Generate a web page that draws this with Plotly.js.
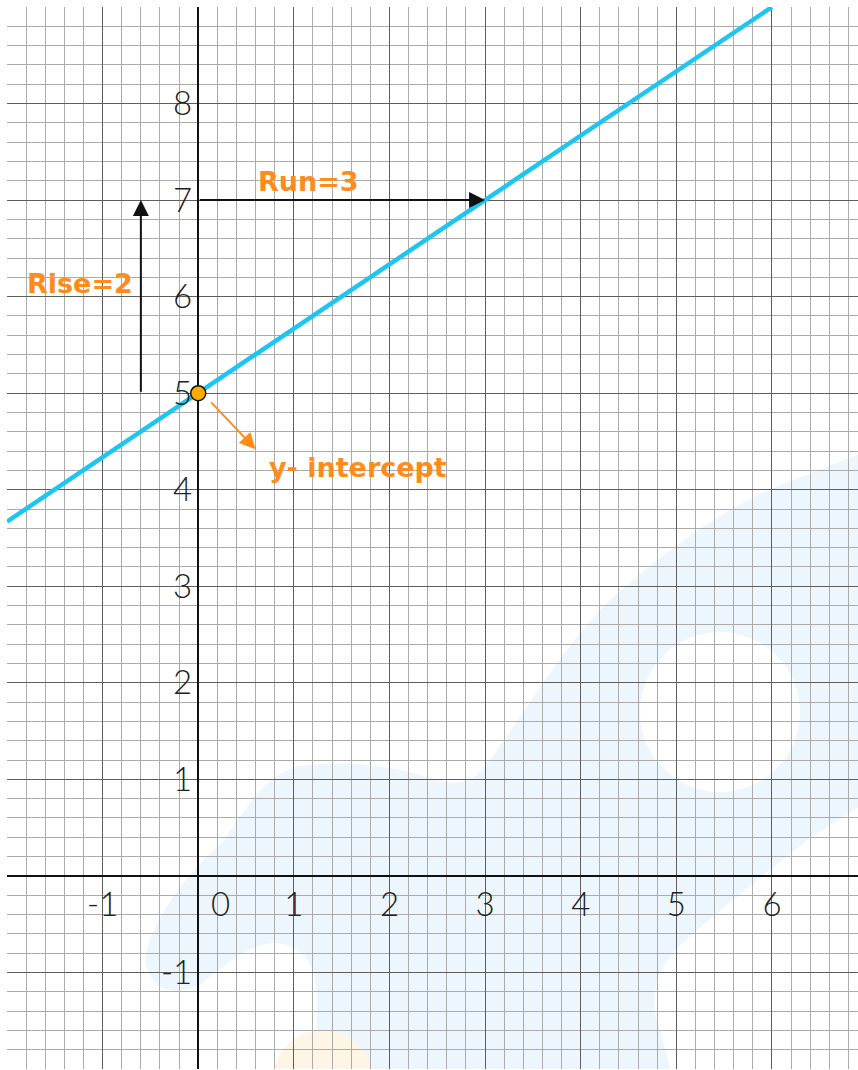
<!DOCTYPE html>
<html>
<head>
<meta charset="utf-8">
<script src="https://cdn.plot.ly/plotly-3.0.1.min.js"></script>
<style>html,body{margin:0;padding:0;background:#fff;}#chart{width:858px;height:1070px;}</style>
</head>
<body>
<div id="chart"></div>
<script>
// ---- data ----
const lineX = [-2, 6];
const lineY = [3.67, 9];
const interceptX = [0];
const interceptY = [5];

const xRange = [-2, 6.9];
const yRange = [-2, 9];

const xTickVals = [-2, -1, 0, 1, 2, 3, 4, 5, 6];
const xTickText = ['', '-1', '\u00a0\u00a0\u00a0\u00a0\u00a00', '1', '2', '3', '4', '5', '6'];
const yTickVals = [-2, -1, 0, 1, 2, 3, 4, 5, 6, 7, 8, 9];
const yTickText = ['', '-1', '', '1', '2', '3', '4', '5', '6', '7', '8', ''];

// run / rise arrows (start -> end)
const runStart = [0, 7], runEnd = [3, 7];
const riseStart = [-0.6, 5], riseEnd = [-0.6, 7];
const pointerStart = [0.12, 4.92], pointerEnd = [0.6, 4.42];

const labelText = ['Rise=2', 'Run=3', 'y- intercept'];
const labelX = [-1.24, 1.15, 1.67];
const labelY = [6.14, 7.19, 4.23];

// ---- decoration (watermark) ----
const wm = "<svg xmlns='http://www.w3.org/2000/svg' viewBox='7 7 851 1062' preserveAspectRatio='none'>" +
 "<path fill='#edf6fd' fill-rule='evenodd' d='M145,960 C150,920 190,870 223,842 C250,800 270,772 300,766 C340,760 380,764 420,775 C450,785 470,790 490,760 C520,720 560,650 610,600 C660,555 720,510 780,485 L870,450 L870,800 L807,840 C770,870 720,910 680,945 C655,970 648,1000 660,1030 L672,1075 L316,1075 L317,993 C315,960 300,945 273,943 C250,945 230,960 200,985 C180,995 150,995 145,960 Z M640,712 a80,80 0 1,0 160,0 a80,80 0 1,0 -160,0 Z'/>" +
 "<circle cx='323' cy='1080' r='50' fill='#fdf6e6'/></svg>";
const wmURI = 'data:image/svg+xml;charset=utf-8,' + encodeURIComponent(wm);

const orange = '#ff8c1a';
const tickFont = {family: 'Lato, "DejaVu Sans", sans-serif', size: 33, color: '#222', weight: 300};
const labelFont = {family: '"DejaVu Sans", sans-serif', size: 27, color: orange, weight: 700};

const traces = [
  {x: lineX, y: lineY, mode: 'lines', line: {color: '#1ec5f0', width: 4.5}, hoverinfo: 'skip', cliponaxis: true},
  {x: interceptX, y: interceptY, mode: 'markers',
   marker: {size: 15, color: '#ffab00', line: {color: '#111', width: 1.5}}, hoverinfo: 'skip', cliponaxis: false}
];

function arrow(s, e, color) {
  return {x: e[0], y: e[1], ax: s[0], ay: s[1], xref: 'x', yref: 'y', axref: 'x', ayref: 'y',
    text: '', showarrow: true, arrowhead: 2, arrowsize: 1.6, arrowwidth: 2, arrowcolor: color, standoff: 0, startstandoff: 0};
}

const annotations = [
  arrow(runStart, runEnd, '#111'),
  arrow(riseStart, riseEnd, '#111'),
  arrow(pointerStart, pointerEnd, orange)
];
for (let i = 0; i < labelText.length; i++) {
  annotations.push({x: labelX[i], y: labelY[i], xref: 'x', yref: 'y', text: labelText[i], showarrow: false,
    font: labelFont, xanchor: 'center', yanchor: 'middle'});
}

const axisCommon = {
  tickmode: 'array', showgrid: true, gridcolor: '#5e5e5e', gridwidth: 1,
  minor: {tickmode: 'linear', tick0: 0, dtick: 0.2, showgrid: true, gridcolor: '#ababab', gridwidth: 1, ticks: ''},
  zeroline: true, zerolinecolor: '#111', zerolinewidth: 2,
  showline: false, ticks: '', tickfont: tickFont, fixedrange: true, anchor: 'free'
};

const layout = {
  width: 858, height: 1070,
  margin: {l: 7, r: 0, t: 7, b: 1, pad: 0},
  paper_bgcolor: '#fff', plot_bgcolor: '#fff',
  showlegend: false,
  xaxis: Object.assign({}, axisCommon, {range: xRange, tickvals: xTickVals, ticktext: xTickText,
    position: (0 - yRange[0]) / (yRange[1] - yRange[0]), ticklabelstandoff: 6}),
  yaxis: Object.assign({}, axisCommon, {range: yRange, tickvals: yTickVals, ticktext: yTickText,
    position: (0 - xRange[0]) / (xRange[1] - xRange[0]), ticklabelstandoff: 6}),
  images: [{source: wmURI, xref: 'paper', yref: 'paper', x: 0, y: 1, sizex: 1, sizey: 1,
    xanchor: 'left', yanchor: 'top', sizing: 'stretch', layer: 'below'}],
  annotations: annotations
};

Plotly.newPlot('chart', traces, layout, {displayModeBar: false, staticPlot: true});
</script>
</body>
</html>
